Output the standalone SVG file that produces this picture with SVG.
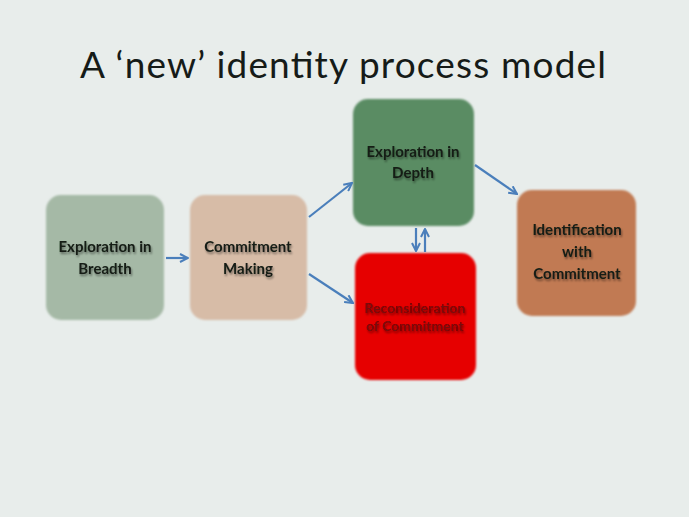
<svg xmlns="http://www.w3.org/2000/svg" width="689" height="517" viewBox="0 0 689 517">
<defs>
<marker id="ah" viewBox="0 0 10 10" refX="9" refY="5" markerWidth="10" markerHeight="10" markerUnits="userSpaceOnUse" orient="auto">
<path d="M1,1 L9,5 L1,9" fill="none" stroke="#4a7fbb" stroke-width="2"/>
</marker>
<filter id="ts" x="-10%" y="-30%" width="120%" height="160%">
<feGaussianBlur in="SourceAlpha" stdDeviation="1"/>
<feOffset dx="1" dy="1.5" result="b"/>
<feComponentTransfer><feFuncA type="linear" slope="0.45"/></feComponentTransfer>
<feMerge><feMergeNode/><feMergeNode in="SourceGraphic"/></feMerge>
</filter>
<filter id="bs" x="-5%" y="-5%" width="110%" height="110%">
<feGaussianBlur stdDeviation="0.8"/>
</filter>
</defs>
<style>
.lbl{font-family:Lato,"Open Sans","Liberation Sans",sans-serif;font-weight:bold;font-size:15px;fill:#141c14;text-anchor:middle}
.red{fill:#760808;font-size:14px}
.con{stroke:#4a7fbb;stroke-width:2.2;fill:none;marker-end:url(#ah)}
.title{font-family:Lato,"Open Sans","Liberation Sans",sans-serif;font-size:37px;fill:#161b18}
</style>
<rect width="689" height="517" fill="#e8edeb"/>
<text class="title" x="80" y="78" textLength="526">A ‘new’ identity process model</text>
<g id="n1">
<rect x="46" y="195" width="118" height="125" rx="15" fill="#a5b9a6" filter="url(#bs)"/>
<text class="lbl" filter="url(#ts)"><tspan x="105" y="252">Exploration in</tspan><tspan x="105" y="274">Breadth</tspan></text>
</g>
<g id="n2">
<rect x="190" y="195" width="117" height="125" rx="15" fill="#d7bca7" filter="url(#bs)"/>
<text class="lbl" filter="url(#ts)"><tspan x="248" y="252">Commitment</tspan><tspan x="248" y="274">Making</tspan></text>
</g>
<g id="n3">
<rect x="353" y="99" width="121" height="127" rx="15" fill="#5a8c63" filter="url(#bs)"/>
<text class="lbl" filter="url(#ts)"><tspan x="413" y="157">Exploration in</tspan><tspan x="413" y="178">Depth</tspan></text>
</g>
<g id="n4">
<rect x="355" y="253" width="121" height="127" rx="15" fill="#e60505" filter="url(#bs)"/>
<text class="lbl red" filter="url(#ts)"><tspan x="415" y="313">Reconsideration</tspan><tspan x="415" y="331">of Commitment</tspan></text>
</g>
<g id="n5">
<rect x="517" y="190" width="119" height="126" rx="15" fill="#c17a52" filter="url(#bs)"/>
<text class="lbl" filter="url(#ts)"><tspan x="577" y="235">Identification</tspan><tspan x="577" y="257">with</tspan><tspan x="577" y="279">Commitment</tspan></text>
</g>
<g id="connectors">
<line class="con" x1="166" y1="258" x2="188" y2="258"/>
<line class="con" x1="309" y1="217" x2="352" y2="183"/>
<line class="con" x1="309" y1="274" x2="353" y2="303"/>
<line class="con" x1="475" y1="165" x2="517" y2="194"/>
<line class="con" x1="416" y1="228" x2="416" y2="251"/>
<line class="con" x1="425" y1="252" x2="425" y2="229"/>
</g>
</svg>
